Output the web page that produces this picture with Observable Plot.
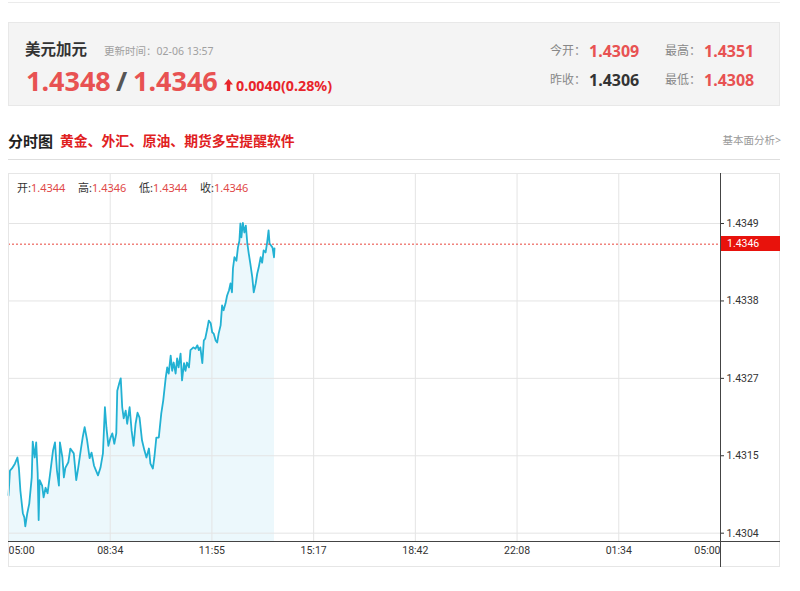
<!DOCTYPE html>
<html><head><meta charset="utf-8">
<script src="https://cdn.jsdelivr.net/npm/d3@7"></script>
<script src="https://cdn.jsdelivr.net/npm/@observablehq/plot@0.6"></script>
<style>
body{margin:0;background:#fff;font-family:"Noto Sans","Noto Sans CJK SC",sans-serif;}
#page{position:relative;width:800px;height:591px;overflow:hidden;background:#fff;}
.abs{position:absolute;white-space:nowrap;line-height:20px;}
#chart svg{position:absolute;left:0;top:160px;}
</style></head><body>
<div id="page"><div id="chart"></div></div>
<script>
// ---- data ----
const pairName = "美元加元";
const updateTime = "更新时间：02-06 13:57";
const bidAsk = ["1.4348", "1.4346"];
const change = "0.0040(0.28%)";
const statLabels = ["今开：", "最高：", "昨收：", "最低："];
const statValues = ["1.4309", "1.4351", "1.4306", "1.4308"];
const ohlcLabels = ["开:", "高:", "低:", "收:"];
const ohlcValues = ["1.4344", "1.4346", "1.4344", "1.4346"];
const current = 1.4346;

const xTickLabels = ["05:00", "08:34", "11:55", "15:17", "18:42", "22:08", "01:34", "05:00"];
const yTickLabels = ["1.4304", "1.4315", "1.4327", "1.4338", "1.4349"];
const yTickMin = 1.4304, yTickMax = 1.4349;

// minutes after 05:00
const times = [0,3,7,13,18,21,24,29,32,34,38,42,47,49,53,56,59,61,63,68,71,75,79,85,90,94,98,102,104,109,112,115,121,125,132,137,141,146,150,154,159,164,168,173,177,181,186,191,195,198,202,206,210,214,218,220,224,227,230,233,237,240,245,249,253,257,261,265,
270,275,279,284,287,292,295,299,304,309,313,318,321,324,328,331,334,338,341,344,348,351,355,358,361,365,368,374,378,382,385,388,392,395,398,402,405,409,412,415,419,422,425,429,432,435,439,442,446,449,452,454,457,461,464,467,469,471,474,477,480,483,486,489,493,496,500,503,506,510,513,516,520,523,526,528,531,534,537,538];
const prices = [1.43095,1.43131,1.43134,1.43141,1.43150,1.43135,1.43102,1.43069,1.43063,1.43050,1.43069,1.43083,1.43121,1.43173,1.43150,1.43172,1.43127,1.43059,1.43117,1.43109,1.43092,1.43106,1.43098,1.43131,1.43160,1.43172,1.43131,1.43109,1.43172,1.43150,1.43121,1.43135,1.43143,1.43163,1.43156,1.43117,1.43135,1.43160,1.43179,1.43194,1.43175,1.43149,1.43157,1.43138,1.43131,1.43124,1.43135,1.43156,1.43223,1.43194,1.43167,1.43178,1.43185,1.43170,1.43185,1.43247,1.43258,1.43265,1.43223,1.43207,1.43218,1.43199,1.43223,1.43189,1.43167,1.43199,1.43215,1.43208,
1.43175,1.43160,1.43150,1.43163,1.43141,1.43134,1.43150,1.43179,1.43179,1.43214,1.43233,1.43266,1.43281,1.43272,1.43298,1.43276,1.43288,1.43272,1.43294,1.43281,1.43301,1.43262,1.43287,1.43276,1.43288,1.43281,1.43306,1.43310,1.43308,1.43313,1.43306,1.43310,1.43287,1.43320,1.43323,1.43337,1.43349,1.43345,1.43332,1.43330,1.43320,1.43317,1.43330,1.43342,1.43371,1.43364,1.43374,1.43385,1.43393,1.43403,1.43390,1.43425,1.43441,1.43436,1.43455,1.43465,1.43490,1.43470,1.43491,1.43477,1.43487,1.43461,1.43446,1.43432,1.43412,1.43390,1.43403,1.43417,1.43426,1.43441,1.43433,1.43451,1.43448,1.43462,1.43480,1.43461,1.43458,1.43455,1.43441,1.43454];

// ---- page chrome ----
const page = document.getElementById("page");
function add(html){ page.insertAdjacentHTML("beforeend", html); }
const RED = "#e85252";
add(`<div class="abs" style="left:8px;top:2px;width:772px;height:1px;background:#ebebeb"></div>`);
add(`<div class="abs" style="left:8px;top:22px;width:770px;height:82px;background:#f4f4f4;border:1px solid #e8e8e8"></div>`);
add(`<div class="abs" style="left:25px;top:38.5px;font-size:15.5px;font-weight:bold;color:#333">${pairName}</div>`);
add(`<div class="abs" style="left:104px;top:40.5px;font-size:10.5px;color:#a0a0a0">${updateTime}</div>`);
add(`<div class="abs" style="left:26px;top:70.5px;font-size:27px;font-weight:bold;color:${RED}">${bidAsk[0]}</div>`);
add(`<div class="abs" style="left:116px;top:70.5px;font-size:27px;font-weight:bold;color:#555">/</div>`);
add(`<div class="abs" style="left:133px;top:70.5px;font-size:27px;font-weight:bold;color:${RED}">${bidAsk[1]}</div>`);
add(`<svg class="abs" style="left:224px;top:79px" width="9" height="12"><path d="M4.5 0 L9 5.5 L6.2 5.5 L6.2 12 L2.8 12 L2.8 5.5 L0 5.5 Z" fill="#e8242b"/></svg>`);
add(`<div class="abs" style="left:236px;top:75.5px;font-size:14.3px;font-weight:bold;color:#e8242b">${change}</div>`);
const statPos = [[550,589,40.5],[665,704,40.5],[550,589,70],[665,704,70]];
statLabels.forEach((l,i)=>{
  const [lx,vx,ty] = statPos[i];
  add(`<div class="abs" style="left:${lx}px;top:${ty}px;font-size:12px;color:#888">${l}</div>`);
  add(`<div class="abs" style="left:${vx}px;top:${ty}px;font-size:16px;font-weight:bold;color:${i===2?"#333":RED}">${statValues[i]}</div>`);
});
add(`<div class="abs" style="left:8px;top:130.5px;font-size:15px;font-weight:bold;color:#222">分时图</div>`);
add(`<div class="abs" style="left:60px;top:130.5px;font-size:13.8px;font-weight:bold;color:#e0201e">黄金、外汇、原油、期货多空提醒软件</div>`);
add(`<div class="abs" style="right:19px;top:129.5px;font-size:10.5px;color:#999">基本面分析&gt;</div>`);
add(`<div class="abs" style="left:8px;top:159px;width:772px;height:1px;background:#dedede"></div>`);

// ---- chart ----
const yDomain = [1.430279, 1.435627];
const xDomain = [0, 1440];
const xTicks = xTickLabels.map((_, i) => xDomain[0] + i * (xDomain[1] - xDomain[0]) / (xTickLabels.length - 1));
const yTicks = yTickLabels.map((_, i) => yTickMin + i * (yTickMax - yTickMin) / (yTickLabels.length - 1));
const data = times.map((t, i) => ({t, v: prices[i]}));
const n = xTickLabels.length;
const labelOpts = {x: i => xTicks[i], text: i => xTickLabels[i], frameAnchor: "bottom", lineAnchor: "top", dy: 5, fill: "#333", fontSize: 10.5};

const chart = Plot.plot({
  width: 800, height: 420,
  marginLeft: 8, marginRight: 80, marginTop: 13, marginBottom: 39,
  style: {fontFamily: "Roboto, 'Noto Sans', sans-serif", fontSize: "10.5px", color: "#333", background: "transparent", overflow: "visible"},
  x: {domain: xDomain, axis: null},
  y: {domain: yDomain, axis: null},
  marks: [
    Plot.areaY(data, {x: "t", y1: yDomain[0], y2: "v", fill: "#ecf8fc"}),
    Plot.gridX(xTicks, {stroke: "#e4e4e4", strokeOpacity: 1}),
    Plot.gridY(yTicks, {stroke: "#e4e4e4", strokeOpacity: 1}),
    Plot.lineY(data, {x: "t", y: "v", stroke: "#22b1d3", strokeWidth: 1.8}),
    Plot.ruleY([current], {stroke: "#e8453c", strokeDasharray: "2,2", strokeWidth: 1}),
    Plot.axisY(yTicks, {anchor: "right", label: null, tickSize: 3, tickPadding: 3, color: "#333", fontSize: 10.5,
      tickFormat: d => yTickLabels[d3.minIndex(yTicks, t => Math.abs(t - d))]}),
    Plot.text([0], {...labelOpts, textAnchor: "start"}),
    Plot.text(d3.range(1, n - 1), {...labelOpts, textAnchor: "middle"}),
    Plot.text([n - 1], {...labelOpts, textAnchor: "end"})
  ]
});
document.getElementById("chart").appendChild(chart);

// frame lines
add(`<div class="abs" style="left:8px;top:173px;width:772px;height:394px;border:1px solid #e6e6e6;box-sizing:border-box"></div>`);
add(`<div class="abs" style="left:8px;top:541px;width:772px;height:1px;background:#444"></div>`);
add(`<div class="abs" style="left:720px;top:173px;width:1px;height:394px;background:#444"></div>`);

// current price tag, positioned with the plot's y scale
const yPix = 160 + chart.scale("y").apply(current);
add(`<div class="abs" style="left:721px;top:${yPix - 7.5}px;width:59px;height:15px;line-height:15px;background:#e8120c;color:#fff;font-family:Roboto,'Noto Sans',sans-serif;font-size:10.5px;padding-left:6px;box-sizing:border-box">${current.toFixed(4)}</div>`);

// OHLC info
const ohlcX = [17, 78, 139, 200];
ohlcLabels.forEach((l, i) => {
  add(`<div class="abs" style="left:${ohlcX[i]}px;top:177.5px;font-size:11px;color:#333">${l}<span style="color:#e04848">${ohlcValues[i]}</span></div>`);
});
</script>
</body></html>
